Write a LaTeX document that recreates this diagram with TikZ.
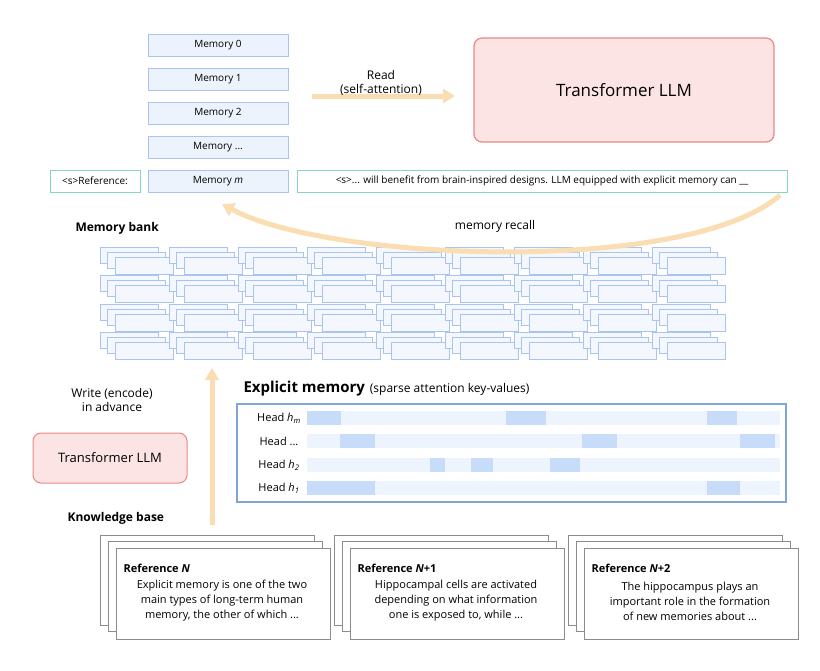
\documentclass[tikz,border=0pt]{standalone}
\usepackage{fontspec}
\setmainfont{Open Sans}
\usetikzlibrary{arrows.meta}
\definecolor{memfill}{HTML}{EDF3FD}
\definecolor{memline}{HTML}{A9C4EE}
\definecolor{llmfill}{HTML}{FDE4E4}
\definecolor{llmline}{HTML}{EC8585}
\definecolor{ctxline}{HTML}{86D6C4}
\definecolor{arrowc}{HTML}{FBDDB3}
\definecolor{headbar}{HTML}{EEF4FD}
\definecolor{headhi}{HTML}{C6DCF9}
\definecolor{emline}{HTML}{7FA6D6}
\tikzset{
  mem/.style={draw=memline, fill=memfill, minimum width=140pt, minimum height=22pt, font=\fontsize{10}{12}\selectfont},
  ctx/.style={draw=ctxline, fill=white, minimum height=22pt, font=\fontsize{10}{12}\selectfont},
  llm/.style={draw=llmline, fill=llmfill, rounded corners=8pt, line width=1.2pt},
  bigarrow/.style={arrowc, line width=5pt, -{Triangle[length=12pt,width=14pt]}},
  tile/.style={draw=memline, fill=memfill!60!white, line width=0.6pt},
  sheet/.style={draw=black!45, fill=white, line width=1pt},
  lbl/.style={font=\fontsize{12}{14}\selectfont, align=center},
}
\begin{document}
\begin{tikzpicture}[x=1pt,y=-1pt]
\useasboundingbox (0,0) rectangle (820,670);

% memory slots
\node[mem] (m0) at (218,45) {Memory 0};
\node[mem] (m1) at (218,79) {Memory 1};
\node[mem] (m2) at (218,113) {Memory 2};
\node[mem] (m3) at (218,147) {Memory ...};
\node[mem] (mm) at (218,181) {Memory \textit{m}};
\node[ctx, minimum width=90pt] (sref) at (95,181) {<s>Reference:};
\node[ctx, minimum width=490pt] (sctx) at (542,181) {<s>... will benefit from brain-inspired designs. LLM equipped with explicit memory can \_\_};

% read
\node[llm, minimum width=300pt, minimum height=104pt, font=\fontsize{17}{20}\selectfont] (llm) at (624,90) {Transformer LLM};
\coordinate (rs) at (312,96);
\draw[bigarrow] (rs) -- (455,96);
\node[lbl] (read) at (381,83) {Read\\(self-attention)};

% memory bank
\node[font=\fontsize{12}{14}\selectfont\bfseries, anchor=west] (bank) at (72,228) {Memory bank};
\foreach \c in {0,...,8}
  \foreach \r in {0,...,3}{
    \draw[tile] (100+69*\c,247+28.5*\r) rectangle ++(58,16);
    \draw[tile] (107+69*\c,252+28.5*\r) rectangle ++(58,16);
    \draw[tile] (115+69*\c,257+28.5*\r) rectangle ++(58,17);
  }

% recall
\coordinate (rc) at (780,195);
\draw[bigarrow] (rc) .. controls (690,275) and (330,262) .. (222,204);
\node[lbl] (recall) at (495,226) {memory recall};

% explicit memory
\node[anchor=west] (emt) at (240,389) {{\fontsize{15}{17}\selectfont\bfseries Explicit memory}\hspace{5pt}{\fontsize{12}{14}\selectfont(sparse attention key-values)}};
\draw[emline, line width=1.5pt, fill=white] (237,404) rectangle (786,502);
\foreach \y/\t in {418/{Head \textit{h\textsubscript{m}}},441/{Head ...},465/{Head \textit{h\textsubscript{2}}},488/{Head \textit{h\textsubscript{1}}}}{
  \fill[headbar] (307,\y-7) rectangle (780,\y+7);
  \node[font=\fontsize{11}{13}\selectfont] at (279,\y) {\t};
}
\foreach \a/\b/\y in {307/341/418,506/546/418,707/737/418,340/375/441,582/617/441,740/775/441,
  430/445/465,471/493/465,550/580/465,307/375/488,707/740/488}
  \fill[headhi] (\a,\y-7) rectangle (\b,\y+7);

% write
\node[lbl] (write) at (112,400) {Write (encode)\\in advance};
\node[llm, minimum width=154pt, minimum height=50pt, font=\fontsize{13}{15}\selectfont, line width=1pt] (llm2) at (110,458) {Transformer LLM};
\coordinate (ws) at (212,525);
\draw[bigarrow] (ws) -- (212,368);

% knowledge base
\node[font=\fontsize{12}{14}\selectfont\bfseries, anchor=west] (kb) at (64,518) {Knowledge base};
\foreach \x/\n/\l in {100/{Reference \textit{N}}/{Explicit memory is one of the two\\main types of long-term human\\memory, the other of which ...},
  334/{Reference \textit{N}+1}/{Hippocampal cells are activated\\depending on what information\\one is exposed to, while ...},
  568/{Reference \textit{N}+2}/{The hippocampus plays an\\important role in the formation\\of new memories about ...}}{
  \draw[sheet] (\x,535) rectangle ++(214,90);
  \draw[sheet] (\x+8,541) rectangle ++(214,90);
  \draw[sheet] (\x+16,548) rectangle ++(214,91);
  \node[anchor=west, font=\fontsize{11}{13}\selectfont\bfseries] at (\x+20,568) {\n};
  \node[font=\fontsize{11}{15}\selectfont, align=center] at (\x+122,601) {\l};
}
\end{tikzpicture}
\end{document}
